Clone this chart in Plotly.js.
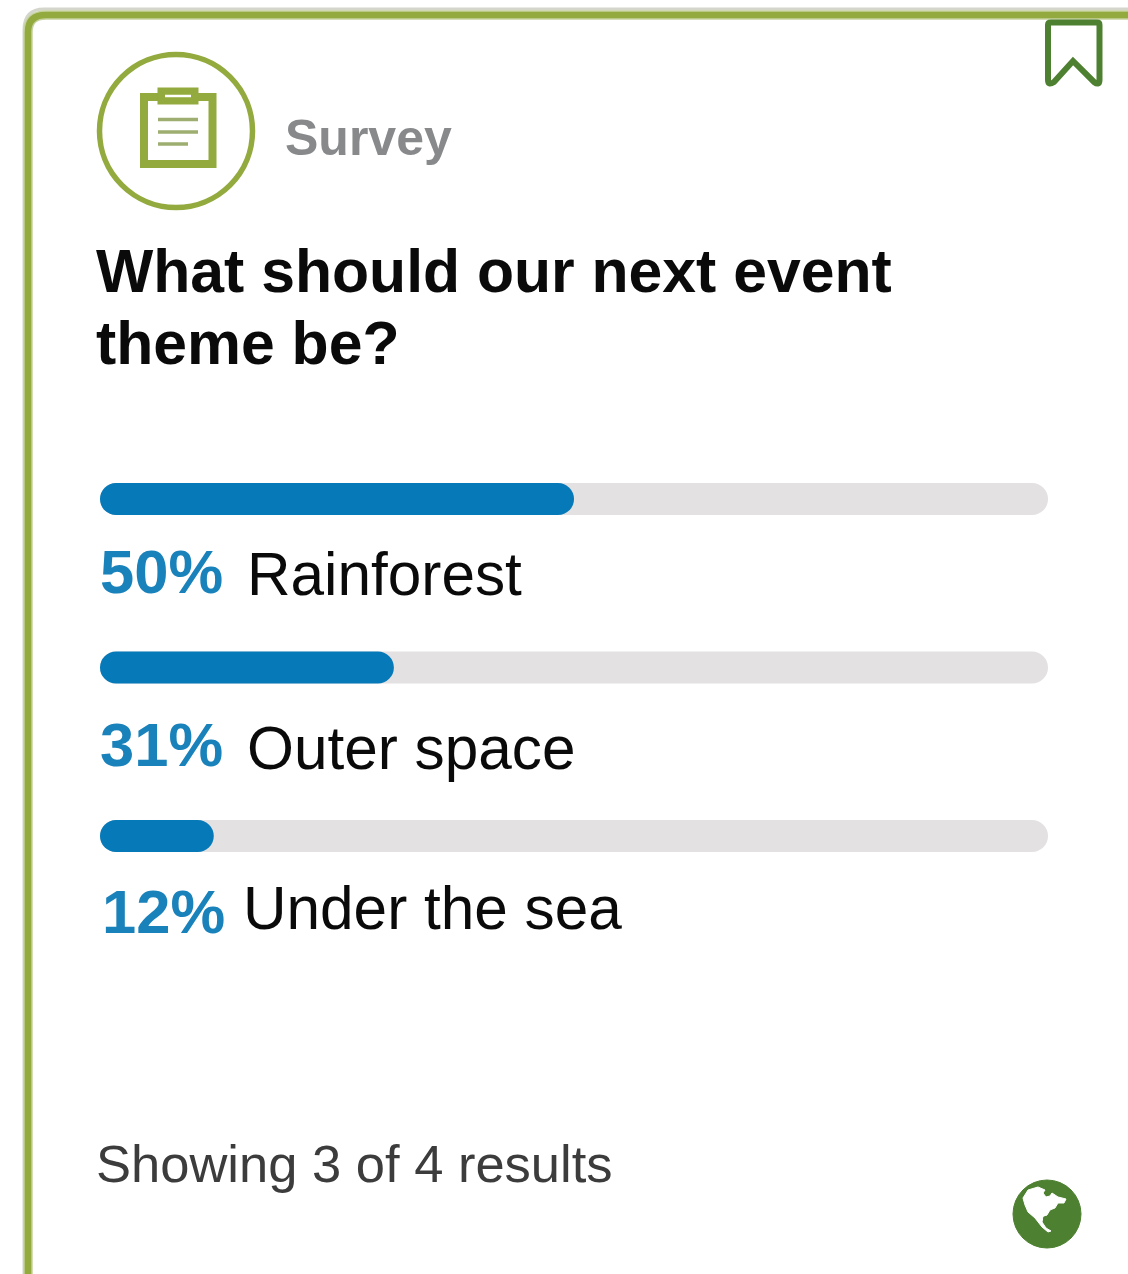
<!DOCTYPE html>
<html>
<head>
<meta charset="utf-8">
<script src="https://cdn.plot.ly/plotly-3.0.1.min.js"></script>
<style>html,body{margin:0;padding:0;background:#fff}#card{width:1128px;height:1274px}</style>
</head>
<body>
<div id="card"></div>
<script>
// Survey results
const categories = ["Rainforest", "Outer space", "Under the sea"];
const percentValues = [50, 31, 12];
const trackValues = [100, 100, 100];
const barBase = [0, 0, 0];
const surveyLabel = "Survey";
const questionLines = ["What should our next event", "theme be?"];
const footerText = "Showing 3 of 4 results";

const W = 1128, H = 1274;
const px = x => x / W;
const py = y => 1 - y / H;
const FONT = "Liberation Sans, Arial, sans-serif";
const GREEN = "#93aa3e", PALE = "#c6d29e", DARK = "#4d8030", MUTED = "#9dae70", BLUE = "#0679b9";

// Turn pixel path commands into paper-fraction path strings
function path(cmds) {
  return cmds.map(c => typeof c === "string" ? c : px(c[0]).toFixed(5) + "," + py(c[1]).toFixed(5)).join(" ");
}
function lineShape(cmds, color, width, fill) {
  return {type: "path", xref: "paper", yref: "paper", path: path(cmds),
          line: {color: color, width: width}, fillcolor: fill || "rgba(0,0,0,0)", layer: "above"};
}
function circleShape(cx, cy, r, color, width, fill) {
  return {type: "circle", xref: "paper", yref: "paper",
          x0: px(cx - r), x1: px(cx + r), y0: py(cy + r), y1: py(cy - r),
          line: {color: color, width: width}, fillcolor: fill || "rgba(0,0,0,0)", layer: "above"};
}

const continent = [[1023, 1198], [1028, 1190], [1038, 1187], [1045, 1190], [1043, 1193], [1046, 1197],
  [1050, 1196], [1052, 1193], [1058, 1197], [1066, 1199], [1064, 1203], [1058, 1203], [1055, 1208],
  [1050, 1210], [1047, 1215], [1043, 1217], [1042, 1222], [1046, 1228], [1051, 1231], [1048, 1232],
  [1042, 1227], [1035, 1218], [1028, 1212], [1025, 1205]];
const continentPath = ["M"].concat(continent.flatMap((p, i) => i === 0 ? [p] : ["L", p]), ["Z"]);

const shapes = [
  // Card edge, open on the right and at the bottom, with a soft outer rim
  lineShape(["M", [24, 1274], "L", [24, 30], "Q", [24, 9], [44, 9], "L", [1128, 9]], "#d4d6cb", 3),
  lineShape(["M", [28, 1274], "L", [28, 32], "Q", [28, 15], [46, 15], "L", [1128, 15]], PALE, 9.5),
  lineShape(["M", [28, 1274], "L", [28, 32], "Q", [28, 15], [46, 15], "L", [1128, 15]], GREEN, 6.5),
  // Clipboard badge
  circleShape(176, 131, 76.5, GREEN, 5.5),
  lineShape(["M", [144, 97], "L", [212.5, 97], "L", [212.5, 164], "L", [144, 164], "Z"], GREEN, 8),
  lineShape(["M", [160, 90], "L", [196, 90], "L", [196, 102], "L", [160, 102], "Z"], GREEN, 5, GREEN),
  lineShape(["M", [165, 96], "L", [191, 96]], "#ffffff", 2.5),
  lineShape(["M", [158, 119.5], "L", [198, 119.5]], MUTED, 3.5),
  lineShape(["M", [158, 132], "L", [198, 132]], MUTED, 3.5),
  lineShape(["M", [158, 144], "L", [188, 144]], MUTED, 3.5),
  // Bookmark ribbon
  lineShape(["M", [1048, 25], "Q", [1048, 22.5], [1051, 22.5], "L", [1097, 22.5], "Q", [1099.5, 22.5], [1099.5, 25],
             "L", [1099.5, 80], "Q", [1099.5, 86], [1094, 82], "L", [1073, 61], "L", [1054, 82],
             "Q", [1048, 86], [1048, 80], "Z"], DARK, 6),
  // Globe with a continent
  circleShape(1047, 1214, 34, DARK, 1, DARK),
  lineShape(continentPath, "#ffffff", 1, "#ffffff"),
  circleShape(1046, 1219, 3, DARK, 0, DARK)
];

function label(text, x, y, size, color, bold) {
  return {text: bold ? "<b>" + text + "</b>" : text, xref: "paper", yref: "paper",
          x: px(x), y: py(y), xanchor: "left", yanchor: "middle", showarrow: false,
          align: "left", font: {family: FONT, size: size, color: color}};
}
const nameX = [245, 245, 241];
const pctX = [98, 98, 100];
const pctY = [571, 744, 911];
const nameY = [574, 748, 908];

const annotations = [
  label(surveyLabel, 283, 138, 50, "#87898a", true),
  label(questionLines[0], 94, 271, 60.7, "#0a0a0a", true),
  label(questionLines[1], 94, 343, 60.7, "#0a0a0a", true),
  label(footerText, 94, 1163, 52.5, "#3c3c3c", false)
];
categories.forEach((c, i) => {
  annotations.push(label(percentValues[i] + "%", pctX[i], pctY[i], 61.5, "#1a82bb", true));
  annotations.push(label(c, nameX[i], nameY[i], 60.3, "#0a0a0a", false));
});

// A bar with an explicit base gets rounded at both ends
function pill(values, color) {
  return {type: "bar", orientation: "h", y: categories, x: values, base: barBase, width: 0.19, opacity: 1,
          marker: {color: color, opacity: 1, cornerradius: 16, line: {width: 0}}, hoverinfo: "skip"};
}

const layout = {
  width: W, height: H, showlegend: false, barmode: "overlay",
  paper_bgcolor: "#ffffff", plot_bgcolor: "rgba(0,0,0,0)",
  margin: {l: 0, r: 0, t: 0, b: 0, pad: 0},
  xaxis: {domain: [px(100), px(1048)], range: [0, 100], visible: false, fixedrange: true},
  yaxis: {domain: [py(920.25), py(414.75)], type: "category", categoryorder: "array",
          categoryarray: categories, autorange: false, range: [2.5, -0.5], visible: false, fixedrange: true},
  shapes: shapes, annotations: annotations
};
Plotly.newPlot("card", [pill(trackValues, "#e3e1e2"), pill(percentValues, BLUE)], layout,
               {displayModeBar: false, staticPlot: true});
</script>
</body>
</html>
